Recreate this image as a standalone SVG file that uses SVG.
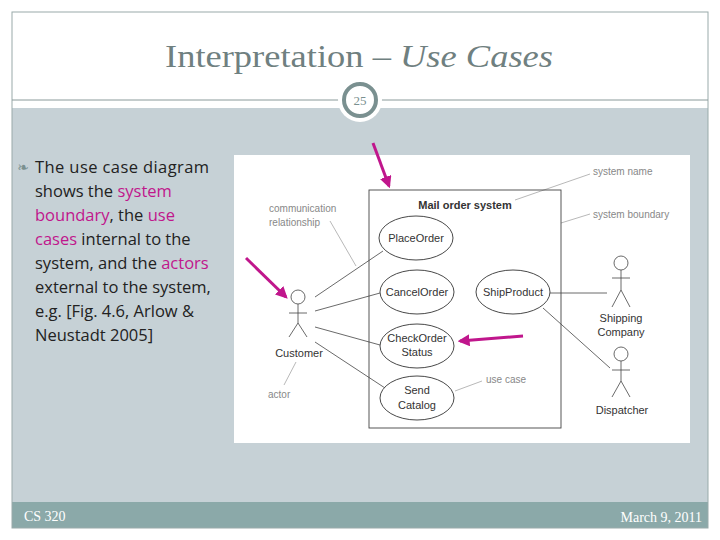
<svg xmlns="http://www.w3.org/2000/svg" width="720" height="540" viewBox="0 0 720 540">
<defs>
<style>
.u{font-family:"Liberation Sans",Arial,sans-serif;font-size:11px;fill:#333;text-anchor:middle}
.n{font-family:"Liberation Sans",Arial,sans-serif;font-size:10px;fill:#888}
.l{stroke:#444;stroke-width:0.8;fill:none}
.g{stroke:#999;stroke-width:0.7;fill:none}
.e{fill:#fff;stroke:#333;stroke-width:0.9}
.b{font-family:"Open Sans","Liberation Sans",sans-serif;font-size:16.5px;fill:#222}
.p{fill:#c0168c}
.a{stroke:#c0168c;stroke-width:3;fill:none}
</style>
<marker id="ar" viewBox="0 0 10 10" refX="8" refY="5" markerWidth="4" markerHeight="4" orient="auto"><path d="M0,0L10,5L0,10z" fill="#c0168c"/></marker>
</defs>
<rect width="720" height="540" fill="#fff"/>
<rect x="12" y="108" width="696" height="420" fill="#c6d1d6"/>
<rect x="12" y="502" width="696" height="26" fill="#8ba9a9"/>
<rect x="12" y="12" width="696" height="516" fill="none" stroke="#9aa" stroke-width="1"/>
<line x1="12" y1="100" x2="708" y2="100" stroke="#8a9a9a" stroke-width="1"/>
<text x="165" y="67" textLength="388" lengthAdjust="spacingAndGlyphs" font-family="Liberation Serif,serif" font-size="32" fill="#6f8080">Interpretation – <tspan font-style="italic">Use Cases</tspan></text>
<circle cx="360" cy="100" r="22" fill="#fff"/>
<circle cx="360" cy="100" r="16" fill="#fff" stroke="#7a9090" stroke-width="4"/>
<text x="360" y="105" text-anchor="middle" font-family="Liberation Serif,serif" font-size="13" fill="#7a9090">25</text>
<text x="24" y="521" font-family="Liberation Serif,serif" font-size="14" fill="#fff">CS 320</text>
<text x="702" y="522" text-anchor="end" font-family="Liberation Serif,serif" font-size="14" fill="#fff">March 9, 2011</text>
<g id="bullet">
<text x="17" y="172" font-family="DejaVu Sans,sans-serif" font-size="14" fill="#7a9090">❧</text>
<text class="b"><tspan x="35" y="173" textLength="174" lengthAdjust="spacing">The use case diagram</tspan><tspan x="35" y="197">shows the <tspan class="p">system</tspan></tspan><tspan x="35" y="221"><tspan class="p">boundary</tspan>, the <tspan class="p">use</tspan></tspan><tspan x="35" y="245"><tspan class="p">cases</tspan> internal to the</tspan><tspan x="35" y="269">system, and the <tspan class="p">actors</tspan></tspan><tspan x="35" y="293">external to the system,</tspan><tspan x="35" y="317">e.g. [Fig. 4.6, Arlow &amp;</tspan><tspan x="35" y="341">Neustadt 2005]</tspan></text>
</g>
<rect x="234" y="155" width="456" height="288" fill="#fff"/>
<g id="connectors">
<line class="l" x1="315" y1="297" x2="383" y2="251"/>
<line class="l" x1="315" y1="311" x2="380" y2="293"/>
<line class="l" x1="315" y1="327" x2="380" y2="345"/>
<line class="l" x1="315" y1="342" x2="385" y2="388"/>
<line class="l" x1="550" y1="293" x2="607" y2="293"/>
<line class="l" x1="543" y1="308" x2="610" y2="368"/>
<line class="g" x1="330" y1="221" x2="356" y2="266"/>
<line class="g" x1="296" y1="362" x2="284" y2="385"/>
<line class="g" x1="515" y1="200" x2="590" y2="174"/>
<line class="g" x1="561" y1="223" x2="590" y2="214"/>
<line class="g" x1="455" y1="391" x2="482" y2="381"/>
</g>
<g id="system">
<rect x="369" y="190" width="192" height="238" fill="none" stroke="#444" stroke-width="0.9"/>
<text x="465" y="209" class="u" font-weight="bold">Mail order system</text>
</g>
<g id="placeorder"><ellipse class="e" cx="416" cy="238" rx="37" ry="22"/><text class="u" x="416" y="242">PlaceOrder</text></g>
<g id="cancelorder"><ellipse class="e" cx="417" cy="292" rx="37" ry="22"/><text class="u" x="417" y="296">CancelOrder</text></g>
<g id="checkorder"><ellipse class="e" cx="417" cy="346" rx="37" ry="22"/><text class="u" x="417" y="342">CheckOrder</text><text class="u" x="417" y="356">Status</text></g>
<g id="sendcatalog"><ellipse class="e" cx="417" cy="398" rx="37" ry="22"/><text class="u" x="417" y="394">Send</text><text class="u" x="417" y="409">Catalog</text></g>
<g id="shipproduct"><ellipse class="e" cx="513" cy="292" rx="37" ry="22"/><text class="u" x="513" y="296">ShipProduct</text></g>
<g id="customer" class="l"><circle cx="298" cy="297" r="7"/><line x1="298" y1="304" x2="298" y2="323"/><line x1="289" y1="313" x2="307" y2="313"/><line x1="298" y1="323" x2="289" y2="337"/><line x1="298" y1="323" x2="307" y2="337"/></g>
<text class="u" x="299" y="357">Customer</text>
<g id="shipping" class="l"><circle cx="621" cy="263" r="7"/><line x1="621" y1="270" x2="621" y2="290"/><line x1="612" y1="278" x2="630" y2="278"/><line x1="621" y1="290" x2="612" y2="307"/><line x1="621" y1="290" x2="630" y2="307"/></g>
<text class="u" x="621" y="322">Shipping</text><text class="u" x="621" y="336">Company</text>
<g id="dispatcher" class="l"><circle cx="621" cy="354" r="7"/><line x1="621" y1="361" x2="621" y2="381"/><line x1="612" y1="370" x2="630" y2="370"/><line x1="621" y1="381" x2="612" y2="397"/><line x1="621" y1="381" x2="630" y2="397"/></g>
<text class="u" x="622" y="414">Dispatcher</text>
<g id="notes">
<text class="n" x="269" y="212">communication</text><text class="n" x="269" y="226">relationship</text>
<text class="n" x="268" y="398">actor</text>
<text class="n" x="593" y="175">system name</text>
<text class="n" x="593" y="218">system boundary</text>
<text class="n" x="486" y="383">use case</text>
</g>
<g id="arrows">
<line class="a" x1="373" y1="143" x2="389" y2="186" marker-end="url(#ar)"/>
<line class="a" x1="246" y1="258" x2="286" y2="297" marker-end="url(#ar)"/>
<line class="a" x1="523" y1="336" x2="460" y2="341" marker-end="url(#ar)"/>
</g>
</svg>
